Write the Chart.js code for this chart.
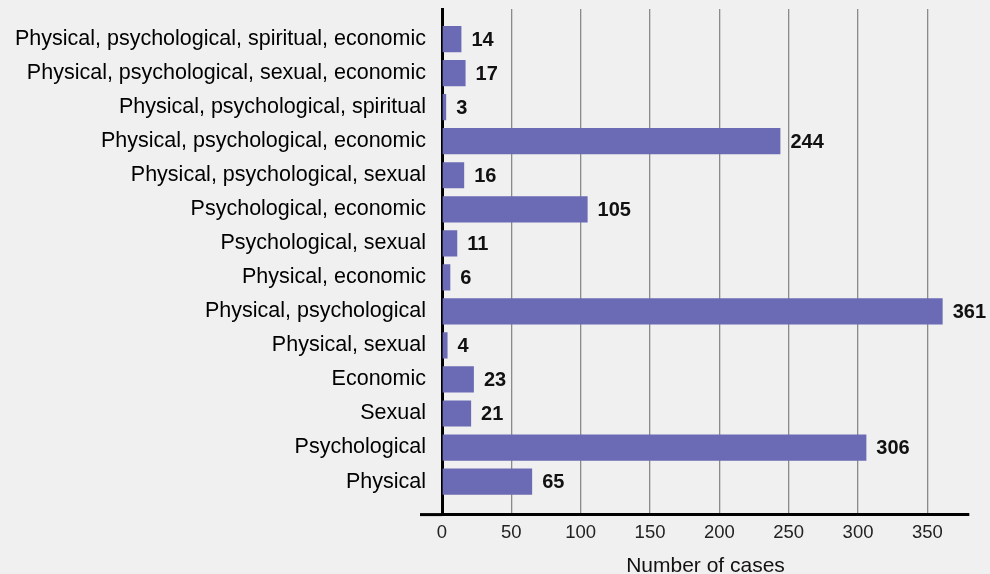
<!DOCTYPE html>
<html>
<head>
<meta charset="utf-8">
<script src="https://cdn.jsdelivr.net/npm/chart.js@4/dist/chart.umd.min.js"></script>
<style>
  html, body { margin: 0; padding: 0; background: #f0f0f0; overflow: hidden; }
  #wrap { width: 990px; height: 579px; }
</style>
</head>
<body>
<div id="wrap"><canvas id="grafico"></canvas></div>
<script>
const categories = [
  'Physical, psychological, spiritual, economic',
  'Physical, psychological, sexual, economic',
  'Physical, psychological, spiritual',
  'Physical, psychological, economic',
  'Physical, psychological, sexual',
  'Psychological, economic',
  'Psychological, sexual',
  'Physical, economic',
  'Physical, psychological',
  'Physical, sexual',
  'Economic',
  'Sexual',
  'Psychological',
  'Physical'
];
const cases = [14, 17, 3, 244, 16, 105, 11, 6, 361, 4, 23, 21, 306, 65];
const xTicks = [0, 50, 100, 150, 200, 250, 300, 350];

const FONT = "'Liberation Sans', Arial, sans-serif";

// bold value next to the end of each bar
const barValues = {
  id: 'barValues',
  afterDatasetsDraw(chart) {
    const ctx = chart.ctx;
    const meta = chart.getDatasetMeta(0);
    ctx.save();
    ctx.font = 'bold 20px ' + FONT;
    ctx.fillStyle = '#111';
    ctx.textAlign = 'left';
    ctx.textBaseline = 'middle';
    meta.data.forEach((bar, i) => {
      ctx.fillText(String(cases[i]), bar.x + 10, bar.y + 1);
    });
    ctx.restore();
  }
};

// x axis line sticks out a little to the left of the y axis
const axisStub = {
  id: 'axisStub',
  afterDraw(chart) {
    const a = chart.chartArea;
    const ctx = chart.ctx;
    ctx.save();
    ctx.strokeStyle = '#000';
    ctx.lineWidth = 3;
    ctx.beginPath();
    ctx.moveTo(a.left - 22, a.bottom);
    ctx.lineTo(a.left, a.bottom);
    ctx.stroke();
    ctx.restore();
  }
};

const data = {
  datasets: [{
    label: 'Number of cases',
    data: cases.map((v, i) => ({x: v, y: i})),
    backgroundColor: '#6b6bb5',
    borderWidth: 0,
    barPercentage: 0.77,
    categoryPercentage: 1
  }]
};

const config = {
  type: 'bar',
  data: data,
  options: {
    indexAxis: 'y',
    responsive: true,
    maintainAspectRatio: false,
    animation: false,
    layout: {
      padding: {top: 9, right: 21, left: 0, bottom: 0}
    },
    plugins: {
      legend: {display: false},
      tooltip: {enabled: false}
    },
    scales: {
      x: {
        type: 'linear',
        min: 0,
        max: 380,
        afterBuildTicks(scale) {
          scale.ticks = xTicks.map(v => ({value: v}));
        },
        afterFit(scale) {
          scale.paddingLeft = 0;
          scale.paddingRight = 0;
        },
        ticks: {
          font: {family: FONT, size: 18.5},
          color: '#222',
          padding: 7
        },
        grid: {color: '#8a8a8a', lineWidth: 1.3, drawTicks: false},
        border: {color: '#000', width: 3},
        title: {
          display: true,
          text: 'Number of cases',
          font: {family: FONT, size: 21},
          color: '#111',
          padding: {top: 3, bottom: 0}
        }
      },
      y: {
        type: 'linear',
        reverse: true,
        offset: false,
        min: -0.884,
        max: 13.97,
        afterBuildTicks(scale) {
          scale.ticks = categories.map((c, i) => ({value: i}));
        },
        afterFit(scale) {
          scale.paddingTop = 0;
          scale.paddingBottom = 0;
          scale.width = 442;
        },
        ticks: {
          callback: v => categories[v],
          font: {family: FONT, size: 21.5},
          color: '#000',
          padding: 16
        },
        grid: {drawOnChartArea: false, drawTicks: false, offset: false},
        border: {color: '#000', width: 3}
      }
    }
  },
  plugins: [barValues, axisStub]
};

const myChart = new Chart(document.getElementById('grafico'), config);
</script>
</body>
</html>
